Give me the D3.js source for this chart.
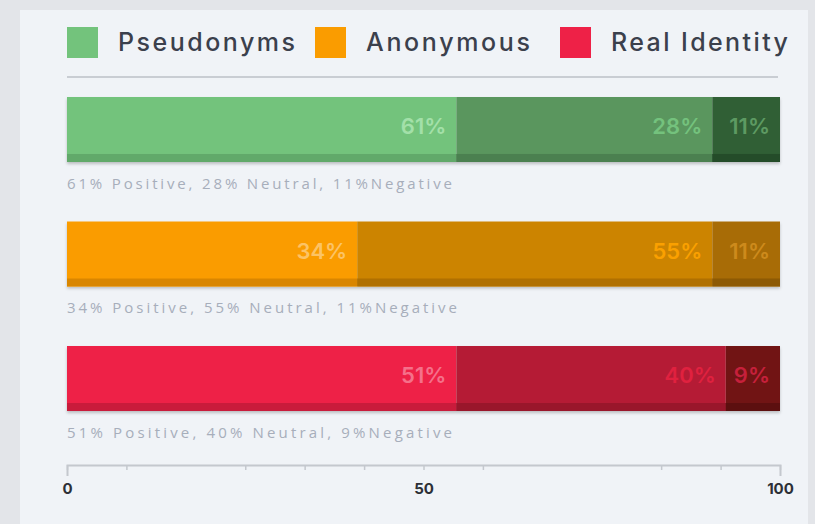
<!DOCTYPE html>
<html>
<head>
<meta charset="utf-8">
<script src="https://cdn.jsdelivr.net/npm/d3@7"></script>
<style>
  html, body { margin: 0; padding: 0; background: #e3e5e9; }
  svg { display: block; }
</style>
</head>
<body>
<svg id="chart" width="815" height="524"></svg>
<script>
// ---- data ----
const categories = ["Pseudonyms", "Anonymous", "Real Identity"];
const segmentNames = ["Positive", "Neutral", "Negative"];
// segment widths as drawn in the reference (percent of axis)
const barPositive = [54.6, 40.7, 54.6];
const barNeutral  = [35.9, 49.8, 37.8];
const barNegative = [9.5, 9.5, 7.6];
// labels printed on the bars
const labelPositive = ["61%", "34%", "51%"];
const labelNeutral  = ["28%", "55%", "40%"];
const labelNegative = ["11%", "11%", "9%"];
const captions = [
  "61% Positive, 28% Neutral, 11%Negative",
  "34% Positive, 55% Neutral, 11%Negative",
  "51% Positive, 40% Neutral, 9%Negative"
];
const majorTicks = [0, 50, 100];
const minorTicks = [8.33, 25, 33.33, 41.67, 58.33, 83.33, 91.67];

// ---- styles ----
const palette = {
  "Pseudonyms":    { fill: ["#73c37c", "#5a965e", "#305f35"], strip: ["#61a96a", "#4b8050", "#244c29"], text: ["#a3e0a9", "#74c27d", "#5d9a62"] },
  "Anonymous":     { fill: ["#fa9c00", "#cc8400", "#a86c06"], strip: ["#d98600", "#b07000", "#8d5a04"], text: ["#fcc365", "#faa000", "#cd8a1c"] },
  "Real Identity": { fill: ["#ee2147", "#b51b35", "#711414"], strip: ["#c91b3b", "#99162b", "#5c0f0f"], text: ["#f5708a", "#e0213f", "#c6203b"] }
};

const svg = d3.select("#chart");
svg.append("rect").attr("x", 20).attr("y", 10).attr("width", 788).attr("height", 530).attr("fill", "#f0f3f7");

const defs = svg.append("defs");
const f = defs.append("filter").attr("id", "shadow").attr("x", "-5%").attr("y", "-20%").attr("width", "110%").attr("height", "150%");
f.append("feDropShadow").attr("dx", 0).attr("dy", 2).attr("stdDeviation", 1.5).attr("flood-color", "#000").attr("flood-opacity", 0.22);

const x = d3.scaleLinear().domain([0, 100]).range([67, 780]);
const y = d3.scaleBand().domain(categories).range([97, 411]).paddingInner(0.478).paddingOuter(0).align(0);

// ---- legend ----
const legendX = [67, 315, 560];
const legendTextLen = [177, 164, 177];
const legend = svg.append("g");
categories.forEach((c, i) => {
  legend.append("rect").attr("x", legendX[i]).attr("y", 27).attr("width", 31).attr("height", 31).attr("fill", palette[c].fill[0]);
  legend.append("text").attr("x", legendX[i] + 51).attr("y", 51)
    .attr("font-family", "Inter, 'Open Sans', sans-serif").attr("font-size", 25).attr("font-weight", 500)
    .attr("fill", "#3b404c").attr("textLength", legendTextLen[i]).attr("lengthAdjust", "spacing")
    .text(c);
});
svg.append("line").attr("x1", 67).attr("x2", 778).attr("y1", 77).attr("y2", 77).attr("stroke", "#c9cdd3").attr("stroke-width", 2);

// ---- bars ----
const rows = categories.map((c, i) => {
  const vals = [barPositive[i], barNeutral[i], barNegative[i]];
  const labels = [labelPositive[i], labelNeutral[i], labelNegative[i]];
  let acc = 0;
  return { cat: c, segs: vals.map((v, j) => { const s = { x0: acc, x1: acc + v, label: labels[j], j }; acc += v; return s; }), caption: captions[i] };
});

const bandH = y.bandwidth();
const stripH = 8;
const rowG = svg.selectAll("g.row").data(rows).join("g").attr("class", "row")
  .attr("transform", d => `translate(0,${y(d.cat)})`);

rowG.append("rect").attr("x", x(0)).attr("y", 0).attr("width", x(100) - x(0)).attr("height", bandH)
  .attr("fill", "#f0f3f7").attr("filter", "url(#shadow)");

rowG.each(function(d) {
  const g = d3.select(this);
  const p = palette[d.cat];
  const seg = g.selectAll("g.seg").data(d.segs).join("g").attr("class", "seg");
  seg.append("rect").attr("x", s => x(s.x0)).attr("y", 0).attr("width", s => x(s.x1) - x(s.x0)).attr("height", bandH)
    .attr("fill", s => p.fill[s.j]);
  seg.append("rect").attr("x", s => x(s.x0)).attr("y", bandH - stripH).attr("width", s => x(s.x1) - x(s.x0)).attr("height", stripH)
    .attr("fill", s => p.strip[s.j]);
  seg.append("text").attr("x", s => x(s.x1) - 10).attr("y", (bandH - stripH) / 2 + 1).attr("dy", "0.36em")
    .attr("text-anchor", "end").attr("font-family", "Inter, 'Open Sans', sans-serif").attr("font-size", 22).attr("font-weight", 600)
    .attr("fill", s => p.text[s.j]).text(s => s.label);
  g.append("text").attr("x", 67).attr("y", bandH + 27)
    .attr("font-family", "'Open Sans', sans-serif").attr("font-size", 15).attr("fill", "#a7aebb")
    .attr("textLength", d.cat === "Anonymous" ? 390 : 385).attr("lengthAdjust", "spacing")
    .text(d.caption);
});

// ---- axis ----
const axisY = 465;
const minorAxis = svg.append("g").attr("transform", `translate(0,${axisY})`)
  .call(d3.axisBottom(x).tickValues(minorTicks).tickSize(5).tickSizeOuter(0).tickFormat(""));
minorAxis.select(".domain").remove();
minorAxis.selectAll("line").attr("stroke", "#c4c8ce").attr("stroke-width", 1.5);

const majorAxis = svg.append("g").attr("transform", `translate(0,${axisY})`)
  .call(d3.axisBottom(x).tickValues(majorTicks).tickSize(5).tickSizeOuter(11).tickPadding(13).tickFormat(d3.format("d")));
majorAxis.select(".domain").attr("stroke", "#c4c8ce").attr("stroke-width", 2);
majorAxis.selectAll("line").attr("stroke", "#c4c8ce").attr("stroke-width", 1.5);
majorAxis.selectAll("text").attr("font-family", "Inter, 'Open Sans', sans-serif").attr("font-size", 15)
  .attr("font-weight", 700).attr("fill", "#2c2f36");
</script>
</body>
</html>
